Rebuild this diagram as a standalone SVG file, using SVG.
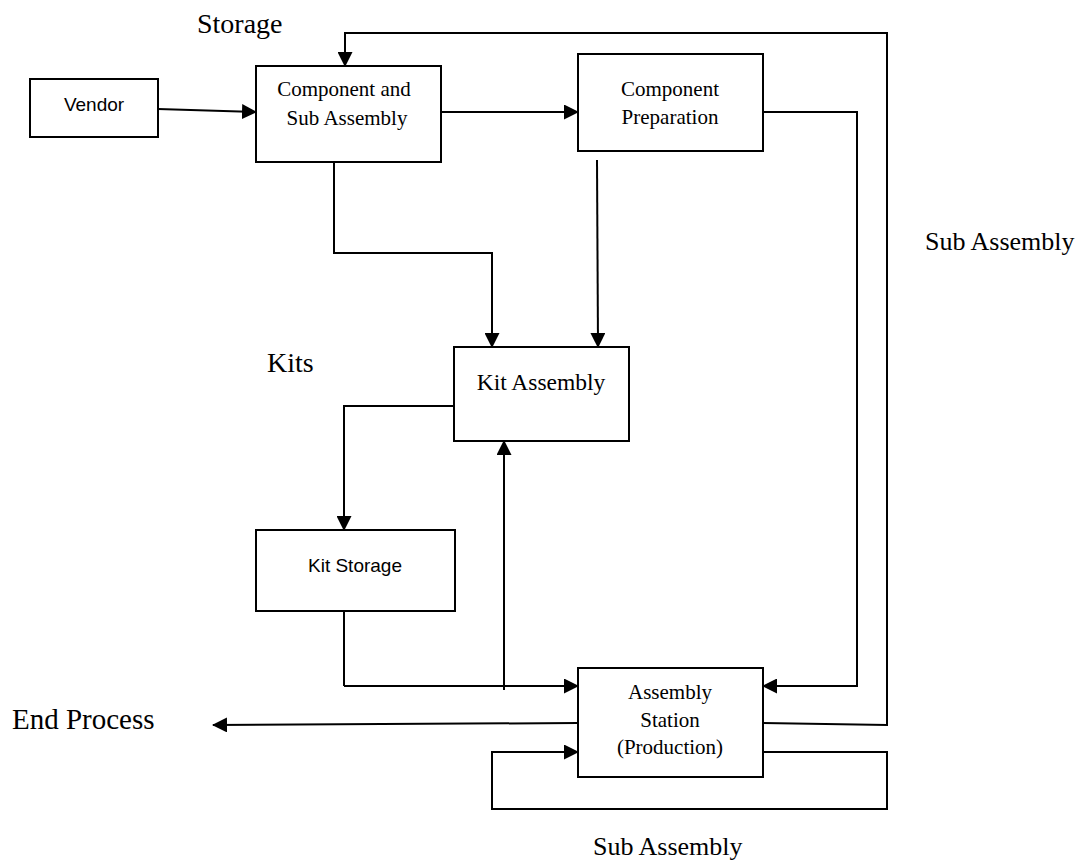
<svg xmlns="http://www.w3.org/2000/svg" width="1083" height="860" viewBox="0 0 1083 860">
<style>
.box{fill:#fff;stroke:#000;stroke-width:2}
.ln{fill:none;stroke:#000;stroke-width:2}
.ar{marker-end:url(#ah)}
.serif{font-family:"Liberation Serif","Times New Roman",serif;fill:#000}
.sans{font-family:"Liberation Sans",Arial,sans-serif;fill:#000;font-size:19px}
.c{text-anchor:middle}
</style>
<defs>
<marker id="ah" markerUnits="userSpaceOnUse" markerWidth="15" markerHeight="15" refX="14" refY="7.5" orient="auto" viewBox="0 0 15 15">
<path d="M0,0 L15,7.5 L0,15 z" fill="#000"/>
</marker>
</defs>
<rect width="1083" height="860" fill="#fff"/>
<g id="labels">
<text class="serif" x="197" y="33" font-size="28">Storage</text>
<text class="serif" x="267" y="372" font-size="28">Kits</text>
<text class="serif" x="12" y="729" font-size="29">End Process</text>
<text class="serif" x="925" y="250" font-size="26">Sub Assembly</text>
<text class="serif" x="593" y="855" font-size="26">Sub Assembly</text>
</g>
<g id="connectors">
<path class="ln ar" d="M158,109 L256,112"/>
<path class="ln ar" d="M441,112 L578,112"/>
<path class="ln ar" d="M334,162 L334,253 L492,253 L492,347"/>
<path class="ln ar" d="M597,160 L598,347"/>
<path class="ln ar" d="M454,406 L344,406 L344,530"/>
<path class="ln" d="M344,611 L344,686"/>
<path class="ln ar" d="M344,686 L578,686"/>
<path class="ln ar" d="M504,690 L504,441"/>
<path class="ln ar" d="M763,112 L857,112 L857,686 L763,686"/>
<path class="ln ar" d="M763,723 L887,725 L887,33 L345,33 L345,66"/>
<path class="ln ar" d="M578,723 L213,725"/>
<path class="ln ar" d="M763,752 L887,752 L887,809 L492,809 L492,752 L578,752"/>
</g>
<g id="vendor">
<rect class="box" x="30" y="79" width="128" height="58"/>
<text class="sans c" x="94" y="111">Vendor</text>
</g>
<g id="component-storage">
<rect class="box" x="256" y="66" width="185" height="96"/>
<text class="serif c" x="344" y="96" font-size="21">Component and</text>
<text class="serif c" x="347" y="125" font-size="21">Sub Assembly</text>
</g>
<g id="component-preparation">
<rect class="box" x="578" y="54" width="185" height="97"/>
<text class="serif c" x="670" y="96" font-size="21">Component</text>
<text class="serif c" x="670" y="124" font-size="21">Preparation</text>
</g>
<g id="kit-assembly">
<rect class="box" x="454" y="347" width="175" height="94"/>
<text class="serif c" x="541" y="390" font-size="23.5">Kit Assembly</text>
</g>
<g id="kit-storage">
<rect class="box" x="256" y="530" width="199" height="81"/>
<text class="sans c" x="355" y="572">Kit Storage</text>
</g>
<g id="assembly-station">
<rect class="box" x="578" y="668" width="185" height="109"/>
<text class="serif c" x="670" y="699" font-size="21">Assembly</text>
<text class="serif c" x="670" y="727" font-size="21">Station</text>
<text class="serif c" x="670" y="754" font-size="21">(Production)</text>
</g>
</svg>
